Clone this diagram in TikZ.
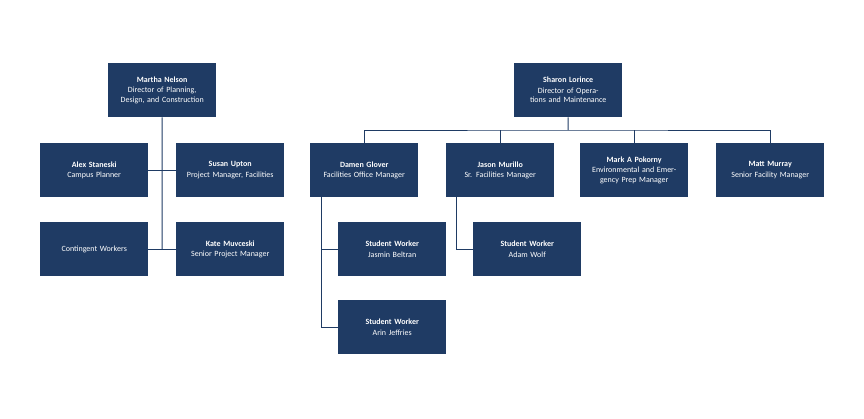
\documentclass[tikz,border=0pt]{standalone}
\usepackage{fontspec}
\setmainfont{Carlito}
\definecolor{navy}{HTML}{1F3B64}
\tikzset{
  box/.style={fill=navy,text=white,minimum width=108pt,minimum height=54pt,inner sep=2pt,align=center,font=\fontsize{8}{9.5}\selectfont,text width=100pt,anchor=north west},
  ln/.style={draw=navy,line width=1pt}
}
\newcommand{\nm}[1]{\textbf{#1}\\[1pt]}
\begin{document}
\begin{tikzpicture}[x=1pt,y=-1pt]
\useasboundingbox (0,0) rectangle (864,418);
\node[box] (mn) at (108,63) {\nm{Martha Nelson}Director of Planning, Design, and Construction};
\node[box] (as) at (40,143) {\nm{Alex Staneski}Campus Planner};
\node[box] (su) at (176,143) {\nm{Susan Upton}Project Manager, Facilities};
\node[box] (cw) at (40,222) {Contingent Workers};
\node[box] (km) at (176,222) {\nm{Kate Muvceski}Senior Project Manager};
\node[box] (sl) at (514,63) {\nm{Sharon Lorince}Director of Operations and Maintenance};
\node[box] (dg) at (310,143) {\nm{Damen Glover}Facilities Office Manager};
\node[box] (jm) at (446,143) {\nm{Jason Murillo}Sr. Facilities Manager};
\node[box] (mp) at (580,143) {\nm{Mark A Pokorny}Environmental and Emergency Prep Manager};
\node[box] (mm) at (716,143) {\nm{Matt Murray}Senior Facility Manager};
\node[box] (jb) at (338,222) {\nm{Student Worker}Jasmin Beltran};
\node[box] (aj) at (338,300) {\nm{Student Worker}Arin Jeffries};
\node[box] (aw) at (473,222) {\nm{Student Worker}Adam Wolf};
\coordinate (lt) at (162,249);
\draw[ln] (mn.south) -- (lt);
\draw[ln] (as.east) -- (su.west);
\draw[ln] (cw.east) -- (km.west);
\coordinate (bus) at (568,130);
\draw[ln] (sl.south) -- (bus);
\draw[ln] (dg.north) |- (bus) -| (mm.north);
\draw[ln] (jm.north) -- ++(0,-13);
\draw[ln] (mp.north) -- ++(0,-13);
\coordinate (dgl) at (321,197);
\draw[ln] (dgl) |- (aj.west);
\draw[ln] (dgl |- jb.west) -- (jb.west);
\coordinate (jml) at (456,197);
\draw[ln] (jml) |- (aw.west);
\end{tikzpicture}
\end{document}
